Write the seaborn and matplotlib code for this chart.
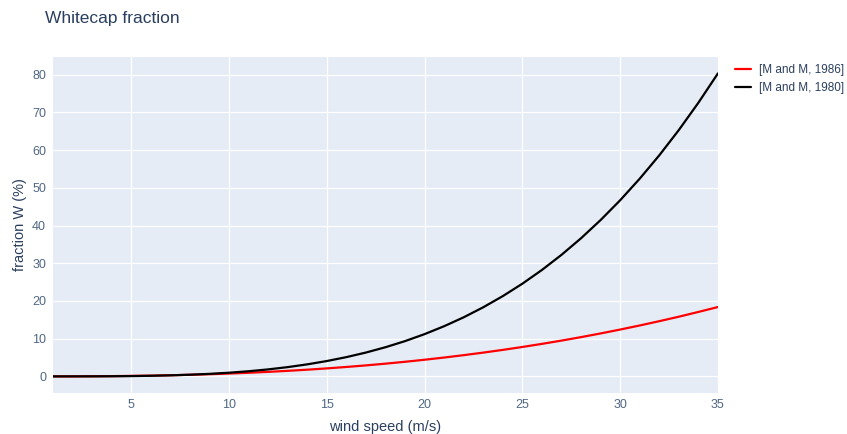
import numpy as np
import pandas as pd
import seaborn as sns
from matplotlib import pyplot as plt

# wind speed (m/s)
wind_speed = list(range(1, 36))

# whitecap fraction (%)
w_1986 = [0.0021, 0.0125, 0.035, 0.073, 0.129, 0.205, 0.304, 0.427, 0.576, 0.754,
          0.961, 1.200, 1.472, 1.778, 2.121, 2.500, 2.917, 3.375, 3.874, 4.415,
          5.001, 5.631, 6.306, 7.030, 7.801, 8.622, 9.491, 10.41, 11.39, 12.42,
          13.50, 14.64, 15.83, 17.09, 18.39]
w_1980 = [0.0003, 0.0034, 0.0141, 0.0388, 0.0851, 0.162, 0.278, 0.445, 0.674, 0.977,
          1.366, 1.856, 2.459, 3.193, 4.071, 5.109, 6.324, 7.735, 9.355, 11.21,
          13.31, 15.67, 18.33, 21.29, 24.58, 28.22, 32.23, 36.63, 41.45, 46.70,
          52.42, 58.61, 65.32, 72.56, 80.34]

series_names = ['[M and M, 1986]', '[M and M, 1980]']
series_colors = ['#ff0000', '#000000']

x_ticks = [5, 10, 15, 20, 25, 30, 35]
y_ticks = [0, 10, 20, 30, 40, 50, 60, 70, 80]

df = pd.DataFrame({
    'wind': wind_speed * 2,
    'W': w_1986 + w_1980,
    'model': [series_names[0]] * len(wind_speed) + [series_names[1]] * len(wind_speed),
})

sns.set_theme(style='white')
plt.rcParams['font.family'] = ['Liberation Sans', 'DejaVu Sans']
text_color = '#2a3f5f'
tick_color = '#506784'

fig = plt.figure(figsize=(8.47, 4.34), dpi=100)
ax = fig.add_axes([0.0626, 0.0945, 0.785, 0.7742])
ax.set_facecolor('#e5ecf6')

sns.lineplot(data=df, x='wind', y='W', hue='model', hue_order=series_names,
             palette=dict(zip(series_names, series_colors)), linewidth=1.6,
             ax=ax, legend=True)

ax.set_xlim(1, 35)
ax.set_ylim(-4.4, 84.7)
ax.set_xticks(x_ticks)
ax.set_yticks(y_ticks)
ax.grid(True, color='white', linewidth=0.9)
ax.set_axisbelow(True)
for s in ax.spines.values():
    s.set_visible(False)
ax.tick_params(axis='both', length=0, labelsize=9, labelcolor=tick_color)
ax.tick_params(axis='y', pad=5)
ax.tick_params(axis='x', pad=4)

ax.set_xlabel('wind speed (m/s)', fontsize=10.5, color=text_color, labelpad=7)
ax.set_ylabel('fraction W (%)', fontsize=10.5, color=text_color, labelpad=4)

fig.text(45 / 847, 1 - 18 / 434, 'Whitecap fraction', fontsize=12.5,
         color=text_color, ha='left', va='center')

leg = ax.legend(loc='upper left', bbox_to_anchor=(1.018, 0.994), frameon=False,
                fontsize=8.5, handlelength=1.4, handletextpad=0.7,
                labelspacing=0.55, borderaxespad=0)
for t in leg.get_texts():
    t.set_color(text_color)

fig.savefig('out.png', dpi=100)
